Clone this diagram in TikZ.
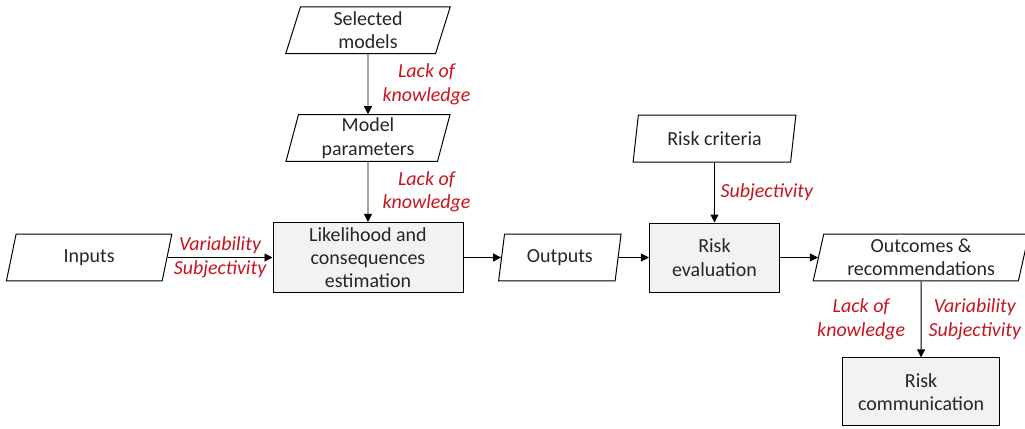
\documentclass[tikz,border=0pt]{standalone}
\usepackage{fontspec}
\setmainfont{Carlito}
\usetikzlibrary{shapes.geometric, arrows.meta, positioning}
\definecolor{factorred}{RGB}{200,20,30}
\definecolor{boxfill}{RGB}{242,242,242}

\begin{document}
\begin{tikzpicture}[
        font=\fontsize{14.2}{16.6}\selectfont,
        process/.style={rectangle, draw, fill=boxfill, line width=0.7pt, minimum height=1.725cm, align=center, text=black!85},
        data/.style={trapezium, trapezium left angle=78, trapezium right angle=102, trapezium stretches=true, draw, line width=0.7pt, minimum height=1.17cm, inner ysep=1pt, align=center, text=black!85},
        flow/.style={-{Triangle[length=2mm, width=2mm]}, line width=0.7pt},
        uncert/.style={font=\fontsize{14.2}{16.6}\selectfont\itshape, text=factorred, align=center, inner sep=2pt}
    ]
        \useasboundingbox (-9.2,-4.2625) rectangle (16.425,6.4375);

        % Main chain
        \node[process, minimum width=4.75cm] (est) {Likelihood and\\consequences\\estimation};
        \node[data, minimum width=4.15cm, left=2.625cm of est] (inp) {Inputs};
        \node[data, minimum width=3.075cm, right=0.94cm of est] (out) {Outputs};
        \node[process, minimum width=3.25cm, right=0.76cm of out] (eval) {Risk\\evaluation};
        \node[data, minimum width=5.4cm, right=0.95cm of eval] (outc) {Outcomes \&\\recommendations};
        \node[process, minimum width=3.925cm, minimum height=1.7cm, below=1.9cm of outc] (comm) {Risk\\communication};

        % Model and criteria inputs
        \node[data, minimum width=4.125cm, above=1.5cm of est] (par) {Model\\parameters};
        \node[data, minimum width=4.125cm, above=1.5cm of par] (sel) {Selected\\models};
        \node[data, minimum width=4.1cm, above=1.5cm of eval] (crit) {Risk criteria};

        \draw[flow] (sel) -- node[uncert, right=8pt] {Lack of\\knowledge} (par);
        \draw[flow] (par) -- node[uncert, right=8pt] {Lack of\\knowledge} (est);
        \draw[flow] (inp) -- node[uncert, above=0pt] {Variability} node[uncert, below=0pt] {Subjectivity} (est);
        \draw[flow] (est) -- (out);
        \draw[flow] (out) -- (eval);
        \draw[flow] (crit) -- node[uncert, right=2pt] {Subjectivity} (eval);
        \draw[flow] (eval) -- (outc);
        \draw[flow] (outc) -- node[uncert, left=9pt] {Lack of\\knowledge} node[uncert, right=3pt] {Variability\\Subjectivity} (comm);
    \end{tikzpicture}
\end{document}
